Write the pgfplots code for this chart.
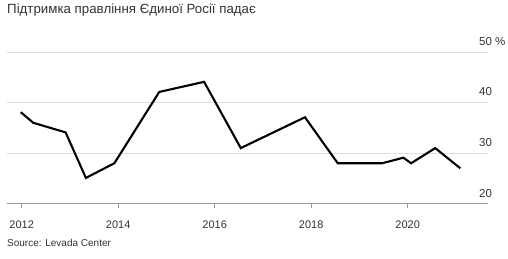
\documentclass[border=0pt]{standalone}
\usepackage{fontspec}
\setmainfont{Liberation Sans}
\usepackage{pgfplots}
\pgfplotsset{compat=1.18}
\definecolor{txt}{HTML}{333333}
\definecolor{grid}{HTML}{DDDDDD}
\definecolor{axl}{HTML}{999999}
\begin{document}
\begin{tikzpicture}
\path[use as bounding box] (0,0) rectangle (508pt,-258pt);
\node[anchor=base west, inner sep=0, text=txt, font=\fontsize{13.3}{15}\selectfont] at (7pt,-13pt) {Підтримка правління Єдиної Росії падає};
\node[anchor=base west, inner sep=0, text=txt, font=\fontsize{10}{12}\selectfont] at (7pt,-246pt) {Source: Levada Center};
\begin{axis}[
  at={(7pt,-203.7pt)}, anchor=south west,
  scale only axis, width=481pt, height=151.7pt,
  xmin=2011.695, xmax=2021.664, ymin=20, ymax=50,
  separate axis lines,
  axis x line*=bottom,
  x axis line style={draw=axl, line width=0.8pt},
  y axis line style={draw=none},
  axis y line*=right,
  xtick={2012,2014,2016,2018,2020},
  ytick={20,30,40,50},
  yticklabels={20,30,40,50 \%},
  /pgf/number format/1000 sep={},
  /pgf/number format/assume math mode=true,
  tick align=outside,
  x tick style={draw=axl, line width=0.8pt},
  major tick length=4pt,
  y tick style={draw=none},
  ymajorgrids,
  grid style={draw=grid, line width=0.8pt},
  xticklabel style={anchor=base, yshift=-21pt, inner sep=0, text=txt, font=\fontsize{11}{13}\selectfont},
  yticklabel style={anchor=base west, inner sep=0, xshift=-13pt, yshift=6.7pt, text=txt, font=\fontsize{11.5}{13}\selectfont},
  clip=false,
]
\addplot[black, line width=2.1pt, line join=miter, mark=none] coordinates {
(2011.98,38.1)(2012.24,36.0)(2012.91,34.1)(2013.33,25.1)(2013.92,28.0)(2014.85,42.1)(2015.78,44.1)(2016.54,31.0)(2017.87,37.1)(2018.55,28.0)(2019.47,28.0)(2019.91,29.1)(2020.07,28.0)(2020.57,31.0)(2021.09,27.0)
};
\end{axis}
\end{tikzpicture}
\end{document}
